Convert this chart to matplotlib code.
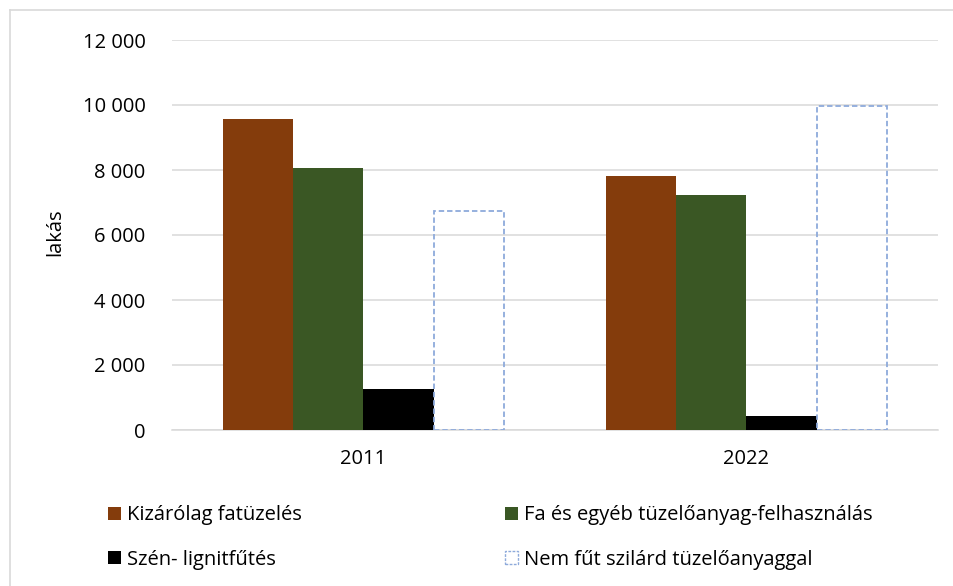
import matplotlib
matplotlib.use("Agg")
import matplotlib.pyplot as plt
from matplotlib.patches import Patch
from matplotlib.lines import Line2D
import numpy as np

plt.rcParams['font.family'] = ['Open Sans', 'DejaVu Sans']

years = ["2011", "2022"]
series_names = ["Kizárólag fatüzelés", "Fa és egyéb tüzelőanyag-felhasználás",
                "Szén- lignitfűtés", "Nem fűt szilárd tüzelőanyaggal"]
kizarolag_fa = [9580, 7830]
fa_es_egyeb = [8050, 7220]
szen_lignit = [1250, 430]
nem_fut = [6740, 9970]
yticks = [0, 2000, 4000, 6000, 8000, 10000, 12000]
ytick_labels = ["0", "2 000", "4 000", "6 000", "8 000", "10 000", "12 000"]

values = [kizarolag_fa, fa_es_egyeb, szen_lignit, nem_fut]
colors = ["#843C0C", "#3A5724", "#000000", "#FFFFFF"]
FS = 14.5

fig = plt.figure(figsize=(9.54, 5.86), dpi=100)
ax = fig.add_axes([172/954, 1-430/586, (938-172)/954, (430-40)/586])

x = np.arange(len(years))
w = 0.183
offsets = [-1.5*w, -0.5*w, 0.5*w, 1.5*w]
for i, (vals, c) in enumerate(zip(values, colors)):
    if i == 3:
        ax.bar(x + offsets[i], vals, w, facecolor="none", edgecolor="#8EAADB",
               linewidth=1.3, linestyle=(0, (3, 1.6)), zorder=3)
    else:
        ax.bar(x + offsets[i], vals, w, color=c, zorder=3, linewidth=0)

ax.set_xlim(-0.5, 1.5)
ax.set_ylim(0, 12000)
ax.set_yticks(yticks)
ax.set_yticklabels(ytick_labels)
ax.set_xticks(x)
ax.set_xticklabels(years)
ax.tick_params(axis='y', length=0, pad=19, labelsize=FS, colors="#000000")
ax.tick_params(axis='x', length=0, pad=14, labelsize=FS)
ax.grid(axis='y', color="#D9D9D9", linewidth=1.1, zorder=0)
for s in ["top", "right", "left"]:
    ax.spines[s].set_visible(False)
ax.spines["bottom"].set_color("#D9D9D9")
ax.spines["bottom"].set_linewidth(1.1)

fig.text(55/954, 1-232/586, "lakás", rotation=90, ha="center", va="center", fontsize=FS)

# border of chart area
fig.add_artist(Line2D([10/954, 10/954], [0, 1-10/586], color="#D9D9D9", lw=1.2, transform=fig.transFigure))
fig.add_artist(Line2D([10/954, 1], [1-10/586, 1-10/586], color="#D9D9D9", lw=1.2, transform=fig.transFigure))

col1_handles = [Patch(facecolor=colors[0], edgecolor="none"),
                Patch(facecolor=colors[2], edgecolor="none")]
col1_labels = [series_names[0], series_names[2]]
col2_handles = [Patch(facecolor=colors[1], edgecolor="none"),
                Patch(facecolor="white", edgecolor="#8EAADB", linestyle=(0, (2, 1)), linewidth=1.0)]
col2_labels = [series_names[1], series_names[3]]

common = dict(loc="center left", frameon=False, fontsize=FS, handlelength=0.65,
              handleheight=0.65, handletextpad=0.3, labelspacing=1.2,
              borderaxespad=0, borderpad=0)
leg1 = fig.legend(col1_handles, col1_labels, bbox_to_anchor=(108/954, 1-537.5/586), **common)
leg2 = fig.legend(col2_handles, col2_labels, bbox_to_anchor=(505/954, 1-537.5/586), **common)

fig.savefig("out.png", dpi=100)
